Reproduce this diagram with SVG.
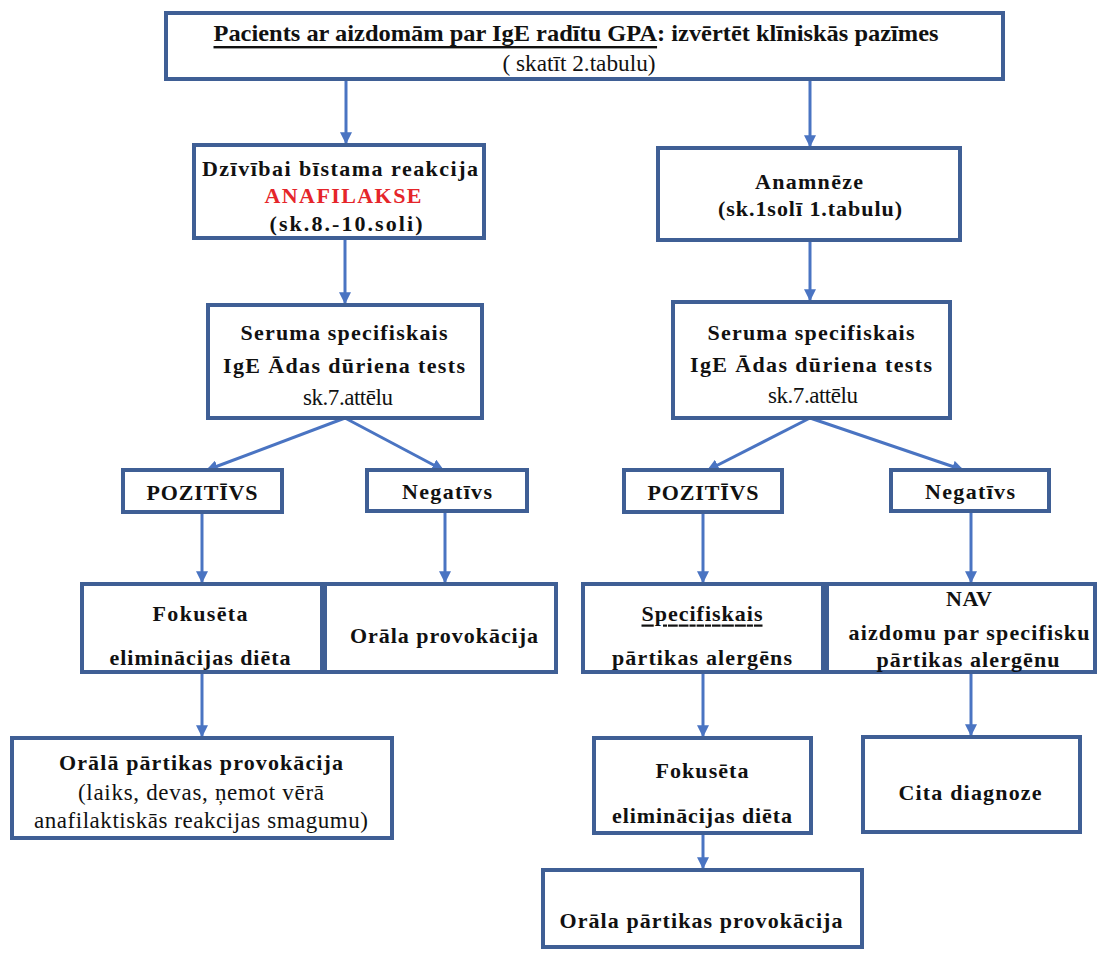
<svg xmlns="http://www.w3.org/2000/svg" width="1102" height="953" viewBox="0 0 1102 953">
<defs>
<style>
.box{fill:#fff;stroke:#3f5f95;stroke-width:4}
.t{font-family:"Liberation Serif","Times New Roman","DejaVu Serif",serif;font-size:22px;font-weight:bold;fill:#111;text-anchor:middle;dominant-baseline:central}
.r{font-family:"Liberation Serif",serif;font-weight:normal;font-size:23px}
.red{fill:#e5252a}
.c{fill:none;stroke:#4a74c2;stroke-width:3}
</style>
<marker id="ah" viewBox="0 0 10 10" refX="9" refY="5" markerWidth="4" markerHeight="4" orient="auto" markerUnits="strokeWidth">
<path d="M0,0 L10,5 L0,10 z" fill="#4a74c2"/>
</marker>
</defs>
<rect width="1102" height="953" fill="#fff"/>

<g id="connectors">
<line class="c" x1="346" y1="79" x2="346" y2="143" marker-end="url(#ah)"/>
<line class="c" x1="810" y1="79" x2="810" y2="146" marker-end="url(#ah)"/>
<line class="c" x1="345" y1="238" x2="345" y2="303" marker-end="url(#ah)"/>
<line class="c" x1="810" y1="240" x2="810" y2="300" marker-end="url(#ah)"/>
<line class="c" x1="345" y1="418" x2="207" y2="470" marker-end="url(#ah)"/>
<line class="c" x1="345" y1="418" x2="443" y2="470" marker-end="url(#ah)"/>
<line class="c" x1="810" y1="418" x2="708" y2="470" marker-end="url(#ah)"/>
<line class="c" x1="810" y1="418" x2="963" y2="470" marker-end="url(#ah)"/>
<line class="c" x1="202" y1="512" x2="202" y2="582" marker-end="url(#ah)"/>
<line class="c" x1="445" y1="511" x2="445" y2="582" marker-end="url(#ah)"/>
<line class="c" x1="703" y1="511" x2="703" y2="582" marker-end="url(#ah)"/>
<line class="c" x1="971" y1="511" x2="971" y2="582" marker-end="url(#ah)"/>
<line class="c" x1="202" y1="673" x2="202" y2="736" marker-end="url(#ah)"/>
<line class="c" x1="703" y1="673" x2="703" y2="736" marker-end="url(#ah)"/>
<line class="c" x1="971" y1="673" x2="971" y2="735" marker-end="url(#ah)"/>
<line class="c" x1="703" y1="833" x2="703" y2="868" marker-end="url(#ah)"/>
</g>

<g id="n-top">
<rect class="box" x="166" y="13" width="837" height="66"/>
<text class="t" x="576" y="33" font-size="24" style="font-size:24px" textLength="725" lengthAdjust="spacingAndGlyphs"><tspan text-decoration="underline">Pacients ar aizdomām  par IgE radītu  GPA</tspan>: izvērtēt klīniskās  pazīmes</text>
<text class="t r" x="579" y="63" style="font-size:24px" textLength="153" lengthAdjust="spacingAndGlyphs">( skatīt 2.tabulu)</text>
</g>

<g id="n-anaf">
<rect class="box" x="194" y="145" width="290" height="93"/>
<text class="t" x="340" y="168" textLength="276" lengthAdjust="spacing">Dzīvībai bīstama  reakcija</text>
<text class="t red" x="343" y="195" textLength="157" lengthAdjust="spacing">ANAFILAKSE</text>
<text class="t" x="346" y="223" textLength="153" lengthAdjust="spacing">(sk.8.-10.soli)</text>
</g>

<g id="n-anamn">
<rect class="box" x="658" y="148" width="302" height="92"/>
<text class="t" x="809" y="181" textLength="108" lengthAdjust="spacing">Anamnēze</text>
<text class="t" x="810" y="208" textLength="184" lengthAdjust="spacing">(sk.1solī 1.tabulu)</text>
</g>

<g id="n-ser1">
<rect class="box" x="208" y="305" width="274" height="113"/>
<text class="t" x="344" y="332" textLength="207" lengthAdjust="spacing">Seruma  specifiskais</text>
<text class="t" x="344" y="365" textLength="242" lengthAdjust="spacing">IgE Ādas dūriena  tests</text>
<text class="t r" x="348" y="397" textLength="90" lengthAdjust="spacing">sk.7.attēlu</text>
</g>

<g id="n-ser2">
<rect class="box" x="673" y="302" width="277" height="116"/>
<text class="t" x="811" y="332" textLength="207" lengthAdjust="spacing">Seruma  specifiskais</text>
<text class="t" x="811" y="364" textLength="242" lengthAdjust="spacing">IgE Ādas dūriena  tests</text>
<text class="t r" x="813" y="395" textLength="90" lengthAdjust="spacing">sk.7.attēlu</text>
</g>

<g id="n-poz1">
<rect class="box" x="123" y="470" width="159" height="42"/>
<text class="t" x="202" y="492" textLength="111" lengthAdjust="spacing">POZITĪVS</text>
</g>
<g id="n-neg1">
<rect class="box" x="367" y="470" width="160" height="41"/>
<text class="t" x="447" y="491" textLength="90" lengthAdjust="spacing">Negatīvs</text>
</g>
<g id="n-poz2">
<rect class="box" x="624" y="470" width="158" height="42"/>
<text class="t" x="703" y="492" textLength="111" lengthAdjust="spacing">POZITĪVS</text>
</g>
<g id="n-neg2">
<rect class="box" x="891" y="470" width="158" height="41"/>
<text class="t" x="970" y="491" textLength="90" lengthAdjust="spacing">Negatīvs</text>
</g>

<g id="n-fok1">
<rect class="box" x="82" y="584" width="240" height="88"/>
<text class="t" x="200" y="613" textLength="95" lengthAdjust="spacing">Fokusēta</text>
<text class="t" x="200" y="657" textLength="181" lengthAdjust="spacing">eliminācijas  diēta</text>
</g>
<g id="n-oral1">
<rect class="box" x="325" y="584" width="231" height="88"/>
<text class="t" x="444" y="635" textLength="188" lengthAdjust="spacing">Orāla  provokācija</text>
</g>
<g id="n-spec">
<rect class="box" x="583" y="584" width="240" height="88"/>
<text class="t" x="702" y="613" textLength="121" lengthAdjust="spacing" text-decoration="underline">Specifiskais</text>
<text class="t" x="702" y="657" textLength="180" lengthAdjust="spacing">pārtikas  alergēns</text>
</g>
<g id="n-nav">
<rect class="box" x="827" y="584" width="268" height="88"/>
<text class="t" x="969" y="598" textLength="46" lengthAdjust="spacing">NAV</text>
<text class="t" x="969" y="632" textLength="241" lengthAdjust="spacing">aizdomu  par  specifisku</text>
<text class="t" x="968" y="659" textLength="183" lengthAdjust="spacing">pārtikas  alergēnu</text>
</g>

<g id="n-oral2">
<rect class="box" x="12" y="738" width="380" height="100"/>
<text class="t" x="201" y="762" textLength="284" lengthAdjust="spacing">Orālā  pārtikas  provokācija</text>
<text class="t r" x="201" y="792" textLength="246" lengthAdjust="spacing">(laiks, devas, ņemot  vērā</text>
<text class="t r" x="201" y="820" textLength="334" lengthAdjust="spacing">anafilaktiskās  reakcijas smagumu)</text>
</g>
<g id="n-fok2">
<rect class="box" x="594" y="738" width="217" height="95"/>
<text class="t" x="702" y="770" textLength="93" lengthAdjust="spacing">Fokusēta</text>
<text class="t" x="702" y="815" textLength="180" lengthAdjust="spacing">eliminācijas  diēta</text>
</g>
<g id="n-cita">
<rect class="box" x="863" y="737" width="217" height="95"/>
<text class="t" x="970" y="792" textLength="143" lengthAdjust="spacing">Cita  diagnoze</text>
</g>
<g id="n-oral3">
<rect class="box" x="543" y="870" width="319" height="77"/>
<text class="t" x="701" y="920" textLength="283" lengthAdjust="spacing">Orāla  pārtikas  provokācija</text>
</g>
</svg>
